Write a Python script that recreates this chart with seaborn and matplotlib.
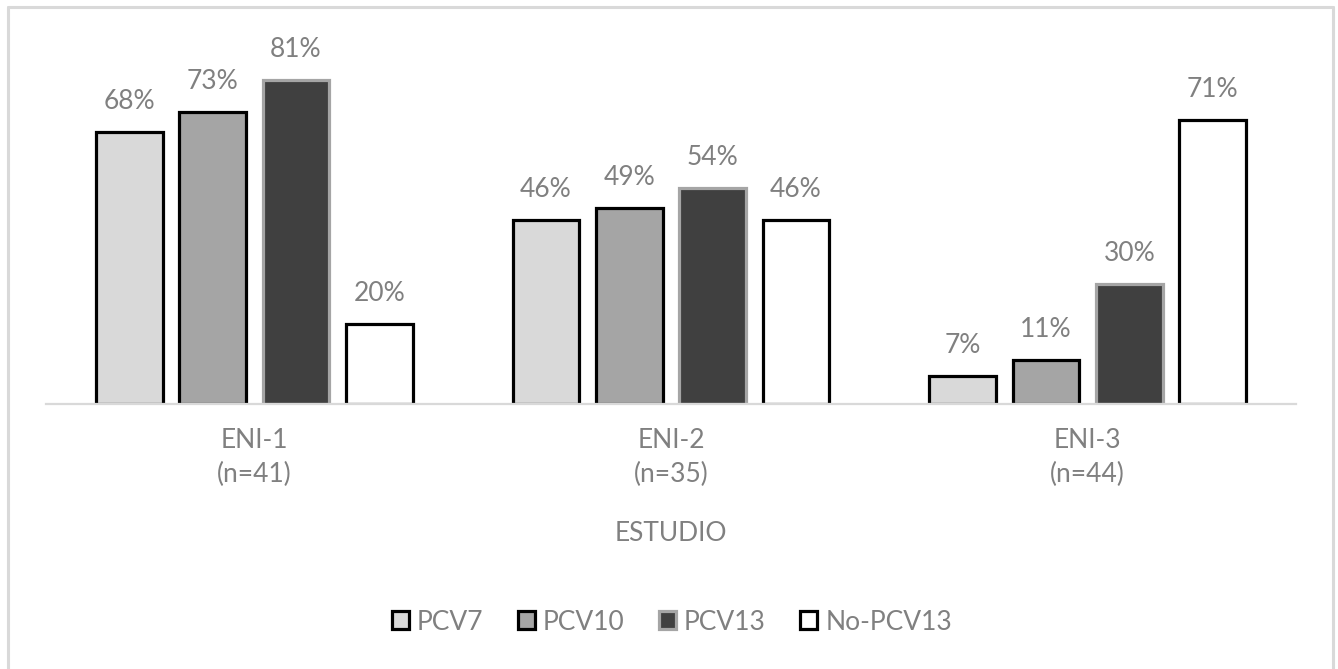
import matplotlib
matplotlib.use("Agg")
import matplotlib.pyplot as plt
import seaborn as sns
import pandas as pd
from matplotlib.patches import Patch
from matplotlib.lines import Line2D

# Study groups and vaccine coverage categories
estudios = ["ENI-1\n(n=41)", "ENI-2\n(n=35)", "ENI-3\n(n=44)"]
vacunas = ["PCV7", "PCV10", "PCV13", "No-PCV13"]
pcv7 = [68, 46, 7]
pcv10 = [73, 49, 11]
pcv13 = [81, 54, 30]
no_pcv13 = [20, 46, 71]

fills = ["#D9D9D9", "#A5A5A5", "#404040", "#FFFFFF"]
edges = ["#000000", "#000000", "#A5A5A5", "#000000"]
text_color = "#808080"

rows = []
for vac, vals in zip(vacunas, [pcv7, pcv10, pcv13, no_pcv13]):
    for est, v in zip(estudios, vals):
        rows.append({"estudio": est, "vacuna": vac, "pct": v})
df = pd.DataFrame(rows)

sns.set_theme(style="white")
plt.rcParams["font.family"] = ["Lato", "DejaVu Sans"]

W, H = 1338, 669
fig = plt.figure(figsize=(W / 100, H / 100), dpi=100)
ax = fig.add_axes([46 / W, 1 - 404 / H, (1296 - 46) / W, (404 - 30) / H])

sns.barplot(data=df, x="estudio", y="pct", hue="vacuna", order=estudios,
            hue_order=vacunas, palette=fills, width=0.8, gap=0.2,
            linewidth=2.3, ax=ax, legend=False, errorbar=None)

for cont, ec in zip(ax.containers, edges):
    for bar in cont:
        bar.set_edgecolor(ec)
        bar.set_linewidth(2.3)
    ax.bar_label(cont, labels=[f"{int(round(b.get_height()))}%" for b in cont],
                 padding=13, color=text_color, fontsize=19)

ax.set_xlim(-0.5, 2.5)
ax.set_ylim(0, 93.5)
ax.set_yticks([])
for s in ["top", "right", "left"]:
    ax.spines[s].set_visible(False)
ax.spines["bottom"].set_color("#D9D9D9")
ax.spines["bottom"].set_linewidth(1.6)
ax.tick_params(axis="x", length=0, pad=17, labelsize=19, labelcolor=text_color)
for t in ax.get_xticklabels():
    t.set_linespacing(1.45)
ax.set_ylabel("")
ax.set_xlabel("ESTUDIO", fontsize=19, color=text_color, labelpad=25)

handles = [Patch(facecolor=f, edgecolor=e, linewidth=2.3) for f, e in zip(fills, edges)]
fig.legend(handles, vacunas, loc="center", bbox_to_anchor=(672 / W, 1 - 622 / H),
           ncol=4, frameon=False, fontsize=19, labelcolor=text_color,
           handlelength=0.65, handleheight=0.65, handletextpad=0.3,
           columnspacing=1.3)

# Chart frame
frame_c = "#D9D9D9"
fig.add_artist(Line2D([7.5 / W, 7.5 / W], [0, 1 - 6.5 / H], color=frame_c, lw=2.2,
                      transform=fig.transFigure))
fig.add_artist(Line2D([7.5 / W, 1332.5 / W], [1 - 6.5 / H, 1 - 6.5 / H], color=frame_c,
                      lw=2.2, transform=fig.transFigure))
fig.add_artist(Line2D([1332.5 / W, 1332.5 / W], [0, 1 - 6.5 / H], color=frame_c, lw=2.2,
                      transform=fig.transFigure))

fig.savefig("out.png", dpi=100, facecolor="white")
